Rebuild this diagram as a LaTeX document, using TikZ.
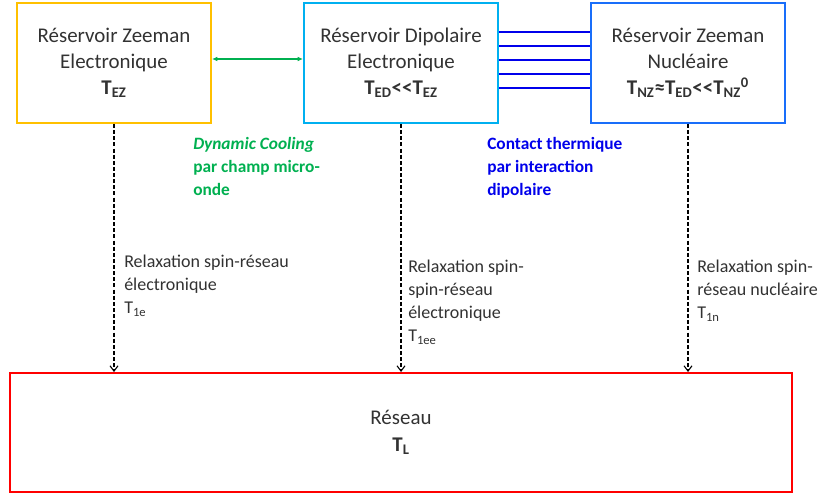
\documentclass[tikz,border=0pt]{standalone}
\usepackage{fontspec}
\setmainfont{Carlito}
\usetikzlibrary{positioning,arrows.meta}
\definecolor{ezorange}{RGB}{255,192,0}
\definecolor{edcyan}{RGB}{0,176,240}
\definecolor{nzblue}{RGB}{25,110,250}
\definecolor{contactblue}{RGB}{0,0,235}
\definecolor{coolgreen}{RGB}{0,176,80}
\definecolor{textgray}{RGB}{50,50,50}

\begin{document}
\begin{tikzpicture}[x=0.75pt,y=-0.75pt]
\tikzstyle{reservoir} = [rectangle, minimum width=145.5pt, minimum height=90pt, align=center, line width=1.5pt, text=textgray, font=\fontsize{15.7}{19.5}\selectfont]
\tikzstyle{reseau} = [rectangle, minimum width=586.5pt, minimum height=89pt, align=center, line width=1.8pt, draw=red, text=textgray, font=\fontsize{15.7}{20}\selectfont]
\tikzstyle{cooling} = [line width=1.1pt, coolgreen, {Latex[length=4pt,width=3.5pt]}-{Latex[length=4pt,width=3.5pt]}]
\tikzstyle{contact} = [line width=1.1pt, contactblue]
\tikzstyle{relax} = [line width=0.8pt, dash pattern=on 3pt off 1.6pt, -{Straight Barb[length=4pt,width=6pt]}]
\tikzstyle{note} = [anchor=north west, align=left, inner sep=0pt, text=textgray, font=\fontsize{13.5}{17.3}\selectfont]
\tikzstyle{mechanism} = [anchor=north west, align=left, inner sep=0pt, font=\fontsize{13}{17.3}\selectfont\bfseries]
\useasboundingbox (0,0) rectangle (825,493);
% reservoirs
\node (ez) [reservoir, draw=ezorange] at (114,63) {Réservoir Zeeman\\Electronique\\\textbf{T\textsubscript{EZ}}};
\node (ed) [reservoir, draw=edcyan, right=68.25pt of ez] {Réservoir Dipolaire\\Electronique\\\textbf{T\textsubscript{ED}<{}<T\textsubscript{EZ}}};
\node (nz) [reservoir, draw=nzblue, right=68.25pt of ed] {Réservoir Zeeman\\Nucléaire\\\textbf{T\textsubscript{NZ}≈T\textsubscript{ED}<{}<T\textsubscript{NZ}\textsuperscript{0}}};
\node (res) [reseau, below=186pt of ed] {Réseau\\\textbf{T\textsubscript{L}}};
% couplings
\draw [cooling] ([yshift=3pt]ez.east) -- ([yshift=3pt]ed.west);
\foreach \dy in {23.25,12.75,2.25,-8.25,-18.75}
  \draw [contact] ([yshift=\dy pt]ed.east) -- ([yshift=\dy pt]nz.west);
\node (cool) [mechanism, text=coolgreen] at (193,137) {\itshape Dynamic Cooling\\par champ micro-\\onde};
\node (cont) [mechanism, text=contactblue] at (487,137) {Contact thermique\\par interaction\\dipolaire};
% relaxation towards the lattice
\draw [relax] (ez.south) -- (ez.south |- res.north);
\draw [relax] (ed.south) -- (ed.south |- res.north);
\draw [relax] (nz.south) -- (nz.south |- res.north);
\node (t1e) [note] at (124,255) {Relaxation spin-réseau\\électronique\\T\textsubscript{1e}};
\node (t1ee) [note] at (408,260) {Relaxation spin-\\spin-réseau\\électronique\\T\textsubscript{1ee}};
\node (t1n) [note] at (697,260) {Relaxation spin-\\réseau nucléaire\\T\textsubscript{1n}};
\end{tikzpicture}
\end{document}
